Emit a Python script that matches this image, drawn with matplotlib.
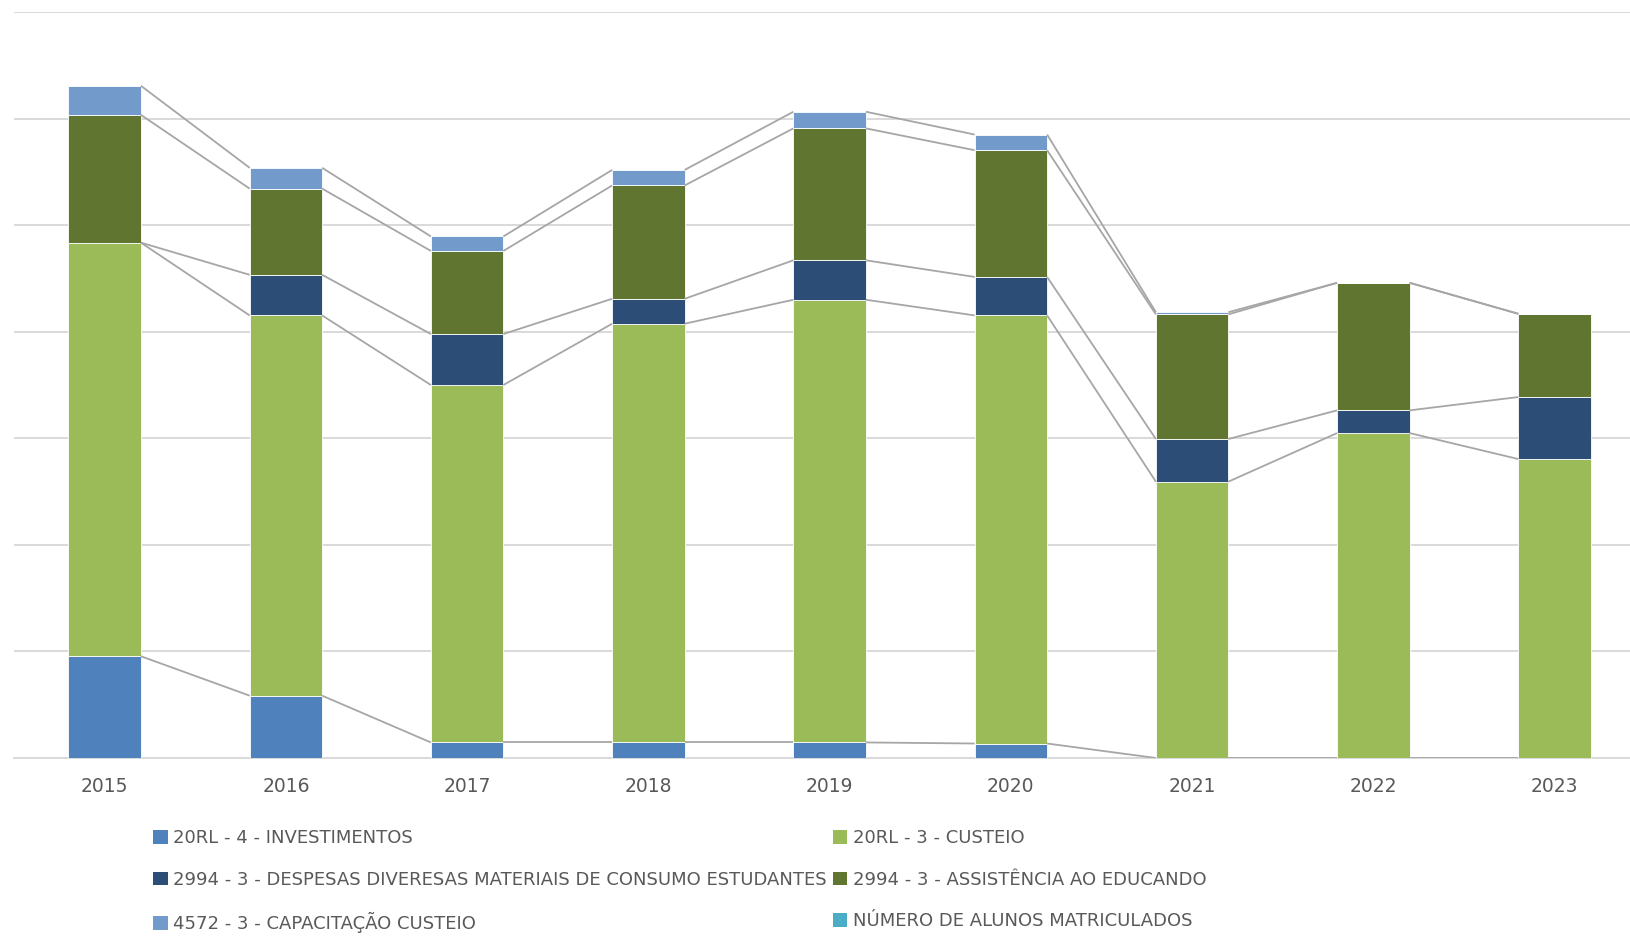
import numpy as np
import matplotlib
matplotlib.use("Agg")
import matplotlib.pyplot as plt
from matplotlib.patches import Patch

plt.rcParams['font.family'] = ['DejaVu Sans']

# data (in gridline units)
years = ["2015", "2016", "2017", "2018", "2019", "2020", "2021", "2022", "2023"]
investimentos = [0.955, 0.585, 0.146, 0.146, 0.146, 0.136, 0.0, 0.0, 0.0]
custeio = [3.881, 3.568, 3.354, 3.929, 4.154, 4.017, 2.593, 3.049, 2.805]
despesas = [0.0, 0.381, 0.478, 0.234, 0.370, 0.361, 0.400, 0.213, 0.582]
assistencia = [1.199, 0.809, 0.780, 1.063, 1.238, 1.189, 1.170, 1.197, 0.781]
capacitacao = [0.273, 0.195, 0.136, 0.146, 0.156, 0.147, 0.020, 0.0, 0.0]

labels = ["20RL - 4 - INVESTIMENTOS", "20RL - 3 - CUSTEIO",
          "2994 - 3 - DESPESAS DIVERESAS MATERIAIS DE CONSUMO ESTUDANTES",
          "2994 - 3 - ASSISTÊNCIA AO EDUCANDO", "4572 - 3 - CAPACITAÇÃO CUSTEIO",
          "NÚMERO DE ALUNOS MATRICULADOS"]
colors = ["#4F81BD", "#9BBB59", "#2C4D75", "#5F7530", "#729ACA", "#4BACC6"]

series = [investimentos, custeio, despesas, assistencia, capacitacao]

TEXT = "#595959"
GRID = "#D9D9D9"
LINE = "#A6A6A6"
W = 0.40

fig = plt.figure(figsize=(16.31, 9.5), dpi=100)
ax = fig.add_axes([14 / 1631, 192 / 950, 1 - 14 / 1631, 746 / 950])

x = np.arange(len(years))
bottom = np.zeros(len(years))
tops = []
for vals, col in zip(series, colors):
  vals = np.array(vals)
  ax.bar(x, vals, W, bottom=bottom, color=col, edgecolor="white", linewidth=0.6, zorder=3)
  bottom = bottom + vals
  tops.append(bottom.copy())

# series lines between neighbouring bars
for top in tops:
  for i in range(len(years) - 1):
    ax.plot([x[i] + W / 2, x[i + 1] - W / 2], [top[i], top[i + 1]],
            color=LINE, linewidth=1.3, zorder=4, solid_capstyle="butt")

ax.set_xlim(-0.5, -0.5 + 1617 / 181.25)
ax.set_ylim(0, 7)
ax.set_yticks(np.arange(0, 8))
ax.yaxis.grid(True, color=GRID, linewidth=1.4, zorder=0)
ax.tick_params(axis="y", left=False, labelleft=False)
ax.tick_params(axis="x", length=0, pad=14, labelsize=13.5, labelcolor=TEXT)
ax.set_xticks(x)
ax.set_xticklabels(years)
for s in ["top", "right", "left"]:
  ax.spines[s].set_visible(False)
ax.spines["bottom"].set_color(GRID)
ax.spines["bottom"].set_linewidth(1.4)

# legend, rows filled across like the original
handles = [Patch(facecolor=c, edgecolor="none") for c in colors]
order = [0, 2, 4, 1, 3, 5]
fig.legend([handles[i] for i in order], [labels[i] for i in order],
           loc="upper left", bbox_to_anchor=(146 / 1631, 1 - 822 / 950), ncol=2,
           frameon=False, fontsize=13, labelcolor=TEXT,
           handlelength=0.8, handleheight=0.8, handletextpad=0.3,
           columnspacing=0.35, labelspacing=1.3, borderaxespad=0)

fig.savefig("out.png", dpi=100)
